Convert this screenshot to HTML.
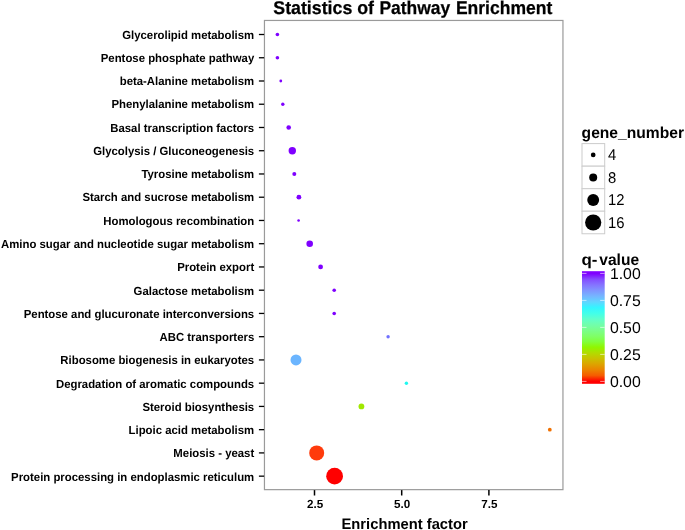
<!DOCTYPE html>
<html><head><meta charset="utf-8"><title>Statistics of Pathway Enrichment</title>
<style>
html,body{margin:0;padding:0;background:#fff;}
svg{display:block;}
text{font-family:"Liberation Sans",sans-serif;fill:#000;text-rendering:geometricPrecision;}
.b{font-weight:bold;}
.yl{font-size:11.75px;font-weight:bold;text-anchor:end;}
.xl{font-size:11.75px;font-weight:bold;text-anchor:middle;}
.lt{font-size:15.6px;}
</style></head><body>
<svg width="685" height="530" viewBox="0 0 685 530">
<rect x="0" y="0" width="685" height="530" fill="#ffffff"/>
<defs><linearGradient id="rb" gradientUnits="userSpaceOnUse" x1="0" y1="381.2" x2="0" y2="273.6">
<stop offset="0.0000" stop-color="#ff0000"/>
<stop offset="0.0526" stop-color="#f65b00"/>
<stop offset="0.1053" stop-color="#eb8300"/>
<stop offset="0.1579" stop-color="#dda300"/>
<stop offset="0.2105" stop-color="#cac100"/>
<stop offset="0.2632" stop-color="#b2dc00"/>
<stop offset="0.3158" stop-color="#90f600"/>
<stop offset="0.3684" stop-color="#81ff3e"/>
<stop offset="0.4211" stop-color="#7fff69"/>
<stop offset="0.4737" stop-color="#7afe8c"/>
<stop offset="0.5263" stop-color="#71feac"/>
<stop offset="0.5789" stop-color="#60ffcc"/>
<stop offset="0.6316" stop-color="#41ffea"/>
<stop offset="0.6842" stop-color="#34f5ff"/>
<stop offset="0.7368" stop-color="#61d5ff"/>
<stop offset="0.7895" stop-color="#75b6ff"/>
<stop offset="0.8421" stop-color="#8096ff"/>
<stop offset="0.8947" stop-color="#8574ff"/>
<stop offset="0.9474" stop-color="#844dff"/>
<stop offset="1.0000" stop-color="#8000ff"/>
</linearGradient></defs>
<text class="b" y="14.35" font-size="18.4" stroke="#000" stroke-width="0.25"><tspan x="273.3" textLength="100.75" lengthAdjust="spacingAndGlyphs">Statistics of</tspan> <tspan x="379.45" textLength="70.8" lengthAdjust="spacingAndGlyphs">Pathway</tspan> <tspan x="455.9" textLength="96.4" lengthAdjust="spacingAndGlyphs">Enrichment</tspan></text>
<rect x="264.45" y="20.45" width="298.50" height="469.20" fill="#fff" stroke="#9a9a9a" stroke-width="1.2"/>
<line x1="258.9" x2="264.1" y1="34.50" y2="34.50" stroke="#000" stroke-width="1.3"/>
<text class="yl" transform="translate(254.2,38.50) scale(0.967,1)">Glycerolipid metabolism</text>
<circle cx="277.4" cy="34.50" r="1.80" fill="#7f00ff"/>
<line x1="258.9" x2="264.1" y1="57.75" y2="57.75" stroke="#000" stroke-width="1.3"/>
<text class="yl" transform="translate(254.2,61.78) scale(0.967,1)">Pentose phosphate pathway</text>
<circle cx="277.4" cy="57.75" r="1.80" fill="#7f00ff"/>
<line x1="258.9" x2="264.1" y1="80.99" y2="80.99" stroke="#000" stroke-width="1.3"/>
<text class="yl" transform="translate(254.2,85.05) scale(0.967,1)">beta-Alanine metabolism</text>
<circle cx="280.8" cy="80.99" r="1.40" fill="#7f00ff"/>
<line x1="258.9" x2="264.1" y1="104.23" y2="104.23" stroke="#000" stroke-width="1.3"/>
<text class="yl" transform="translate(254.2,108.33) scale(0.967,1)">Phenylalanine metabolism</text>
<circle cx="282.8" cy="104.23" r="1.70" fill="#7f00ff"/>
<line x1="258.9" x2="264.1" y1="127.48" y2="127.48" stroke="#000" stroke-width="1.3"/>
<text class="yl" transform="translate(254.2,131.60) scale(0.967,1)">Basal transcription factors</text>
<circle cx="288.7" cy="127.48" r="2.30" fill="#7f00ff"/>
<line x1="258.9" x2="264.1" y1="150.73" y2="150.73" stroke="#000" stroke-width="1.3"/>
<text class="yl" transform="translate(254.2,154.88) scale(0.967,1)">Glycolysis / Gluconeogenesis</text>
<circle cx="292.3" cy="150.73" r="3.70" fill="#7f00ff"/>
<line x1="258.9" x2="264.1" y1="173.97" y2="173.97" stroke="#000" stroke-width="1.3"/>
<text class="yl" transform="translate(254.2,178.15) scale(0.967,1)">Tyrosine metabolism</text>
<circle cx="294.3" cy="173.97" r="2.00" fill="#7f00ff"/>
<line x1="258.9" x2="264.1" y1="197.22" y2="197.22" stroke="#000" stroke-width="1.3"/>
<text class="yl" transform="translate(254.2,201.43) scale(0.967,1)">Starch and sucrose metabolism</text>
<circle cx="298.9" cy="197.22" r="2.40" fill="#7f00ff"/>
<line x1="258.9" x2="264.1" y1="220.46" y2="220.46" stroke="#000" stroke-width="1.3"/>
<text class="yl" transform="translate(254.2,224.70) scale(0.967,1)">Homologous recombination</text>
<circle cx="298.6" cy="220.46" r="1.30" fill="#7f00ff"/>
<line x1="258.9" x2="264.1" y1="243.71" y2="243.71" stroke="#000" stroke-width="1.3"/>
<text class="yl" transform="translate(254.2,247.98) scale(0.967,1)">Amino sugar and nucleotide sugar metabolism</text>
<circle cx="309.7" cy="243.71" r="3.30" fill="#7f00ff"/>
<line x1="258.9" x2="264.1" y1="266.95" y2="266.95" stroke="#000" stroke-width="1.3"/>
<text class="yl" transform="translate(254.2,271.25) scale(0.967,1)">Protein export</text>
<circle cx="320.6" cy="266.95" r="2.40" fill="#7f00ff"/>
<line x1="258.9" x2="264.1" y1="290.20" y2="290.20" stroke="#000" stroke-width="1.3"/>
<text class="yl" transform="translate(254.2,294.53) scale(0.967,1)">Galactose metabolism</text>
<circle cx="334.2" cy="290.20" r="1.80" fill="#7f00ff"/>
<line x1="258.9" x2="264.1" y1="313.44" y2="313.44" stroke="#000" stroke-width="1.3"/>
<text class="yl" transform="translate(254.2,317.80) scale(0.967,1)">Pentose and glucuronate interconversions</text>
<circle cx="334.2" cy="313.44" r="1.80" fill="#7f00ff"/>
<line x1="258.9" x2="264.1" y1="336.69" y2="336.69" stroke="#000" stroke-width="1.3"/>
<text class="yl" transform="translate(254.2,341.07) scale(0.967,1)">ABC transporters</text>
<circle cx="388.1" cy="336.69" r="1.70" fill="#7070ff"/>
<line x1="258.9" x2="264.1" y1="359.93" y2="359.93" stroke="#000" stroke-width="1.3"/>
<text class="yl" transform="translate(254.2,364.35) scale(0.967,1)">Ribosome biogenesis in eukaryotes</text>
<circle cx="296.0" cy="359.93" r="5.50" fill="#6bb5ff"/>
<line x1="258.9" x2="264.1" y1="383.18" y2="383.18" stroke="#000" stroke-width="1.3"/>
<text class="yl" transform="translate(254.2,387.62) scale(0.967,1)">Degradation of aromatic compounds</text>
<circle cx="406.4" cy="383.18" r="1.70" fill="#20f8f0"/>
<line x1="258.9" x2="264.1" y1="406.42" y2="406.42" stroke="#000" stroke-width="1.3"/>
<text class="yl" transform="translate(254.2,410.90) scale(0.967,1)">Steroid biosynthesis</text>
<circle cx="361.4" cy="406.42" r="2.90" fill="#a0e800"/>
<line x1="258.9" x2="264.1" y1="429.67" y2="429.67" stroke="#000" stroke-width="1.3"/>
<text class="yl" transform="translate(254.2,434.18) scale(0.967,1)">Lipoic acid metabolism</text>
<circle cx="549.8" cy="429.67" r="1.90" fill="#f07000"/>
<line x1="258.9" x2="264.1" y1="452.91" y2="452.91" stroke="#000" stroke-width="1.3"/>
<text class="yl" transform="translate(254.2,457.45) scale(0.967,1)">Meiosis - yeast</text>
<circle cx="316.7" cy="452.91" r="7.50" fill="#ff3b0c"/>
<line x1="258.9" x2="264.1" y1="476.16" y2="476.16" stroke="#000" stroke-width="1.3"/>
<text class="yl" transform="translate(254.2,480.73) scale(0.967,1)">Protein processing in endoplasmic reticulum</text>
<circle cx="334.6" cy="476.16" r="8.40" fill="#ff0000"/>
<line x1="314.5" x2="314.5" y1="490.1" y2="495.5" stroke="#000" stroke-width="1.5"/>
<text class="xl" transform="translate(315.1,508.4) scale(0.99,1)">2.5</text>
<line x1="401.7" x2="401.7" y1="490.1" y2="495.5" stroke="#000" stroke-width="1.5"/>
<text class="xl" transform="translate(402.2,508.4) scale(0.99,1)">5.0</text>
<line x1="488.9" x2="488.9" y1="490.1" y2="495.5" stroke="#000" stroke-width="1.5"/>
<text class="xl" transform="translate(489.4,508.4) scale(0.99,1)">7.5</text>
<text class="b" x="341.5" y="529.4" font-size="15.1" textLength="126.2" lengthAdjust="spacingAndGlyphs">Enrichment factor</text>
<text class="b" x="581.6" y="138.1" font-size="16" textLength="102.4" lengthAdjust="spacingAndGlyphs">gene_number</text>
<rect x="582.0" y="143.6" width="22.7" height="22.55" fill="#fff" stroke="#cccccc" stroke-width="1"/>
<circle cx="593.2" cy="154.9" r="2.35" fill="#000"/>
<text class="lt" transform="translate(607.9,160.28) scale(0.95,1)">4</text>
<rect x="582.0" y="166.2" width="22.7" height="22.55" fill="#fff" stroke="#cccccc" stroke-width="1"/>
<circle cx="593.2" cy="177.4" r="4.00" fill="#000"/>
<text class="lt" transform="translate(607.9,182.83) scale(0.95,1)">8</text>
<rect x="582.0" y="188.7" width="22.7" height="22.55" fill="#fff" stroke="#cccccc" stroke-width="1"/>
<circle cx="593.2" cy="200.0" r="5.95" fill="#000"/>
<text class="lt" transform="translate(607.9,205.38) scale(0.95,1)">12</text>
<rect x="582.0" y="211.2" width="22.7" height="22.55" fill="#fff" stroke="#cccccc" stroke-width="1"/>
<circle cx="593.2" cy="222.5" r="8.10" fill="#000"/>
<text class="lt" transform="translate(607.9,227.93) scale(0.95,1)">16</text>
<text class="b" y="265.3" font-size="16"><tspan x="581.4" textLength="16" lengthAdjust="spacingAndGlyphs">q-</tspan><tspan x="599.3" textLength="39.8" lengthAdjust="spacingAndGlyphs">value</tspan></text>
<rect x="582" y="271.2" width="22.7" height="112.6" fill="url(#rb)"/>
<line x1="582" x2="586.5" y1="273.4" y2="273.4" stroke="#fff" stroke-width="0.6"/>
<line x1="600.2" x2="604.7" y1="273.4" y2="273.4" stroke="#fff" stroke-width="0.6"/>
<text class="lt" x="609.9" y="279.1" textLength="30.8" lengthAdjust="spacingAndGlyphs">1.00</text>
<line x1="582" x2="586.5" y1="300.4" y2="300.4" stroke="#fff" stroke-width="0.6"/>
<line x1="600.2" x2="604.7" y1="300.4" y2="300.4" stroke="#fff" stroke-width="0.6"/>
<text class="lt" x="609.9" y="306.1" textLength="30.8" lengthAdjust="spacingAndGlyphs">0.75</text>
<line x1="582" x2="586.5" y1="327.4" y2="327.4" stroke="#fff" stroke-width="0.6"/>
<line x1="600.2" x2="604.7" y1="327.4" y2="327.4" stroke="#fff" stroke-width="0.6"/>
<text class="lt" x="609.9" y="333.1" textLength="30.8" lengthAdjust="spacingAndGlyphs">0.50</text>
<line x1="582" x2="586.5" y1="354.4" y2="354.4" stroke="#fff" stroke-width="0.6"/>
<line x1="600.2" x2="604.7" y1="354.4" y2="354.4" stroke="#fff" stroke-width="0.6"/>
<text class="lt" x="609.9" y="360.1" textLength="30.8" lengthAdjust="spacingAndGlyphs">0.25</text>
<line x1="582" x2="586.5" y1="381.4" y2="381.4" stroke="#fff" stroke-width="0.6"/>
<line x1="600.2" x2="604.7" y1="381.4" y2="381.4" stroke="#fff" stroke-width="0.6"/>
<text class="lt" x="609.9" y="387.1" textLength="30.8" lengthAdjust="spacingAndGlyphs">0.00</text>
</svg></body></html>
